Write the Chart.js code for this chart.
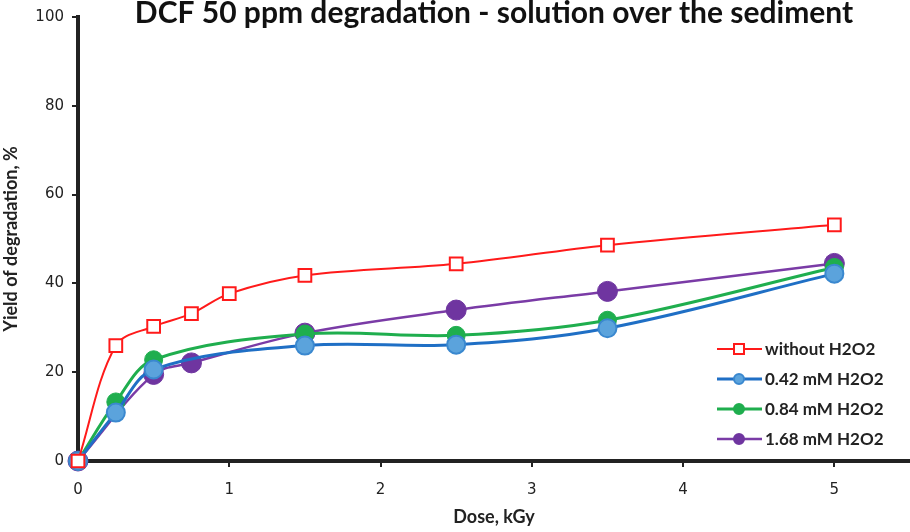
<!DOCTYPE html>
<html>
<head>
<meta charset="utf-8">
<script src="https://cdn.jsdelivr.net/npm/chart.js@4.4.1/dist/chart.umd.min.js"></script>
<style>
  body { margin: 0; background: #fff; }
  #wrap { width: 910px; height: 532px; }
</style>
</head>
<body>
<div id="wrap"><canvas id="myChart" width="910" height="532"></canvas></div>
<script>
var seriesNames = ['without H2O2', '0.42 mM H2O2', '0.84 mM H2O2', '1.68 mM H2O2'];
var doseRed = [0, 0.25, 0.5, 0.75, 1, 1.5, 2.5, 3.5, 5];
var yieldRed = [0, 26, 30.3, 33.2, 37.7, 41.8, 44.4, 48.6, 53.2];
var doseBlue = [0, 0.25, 0.5, 1.5, 2.5, 3.5, 5];
var yieldBlue = [0, 10.9, 20.6, 26, 26.2, 29.9, 42.2];
var doseGreen = [0, 0.25, 0.5, 1.5, 2.5, 3.5, 5];
var yieldGreen = [0, 13.3, 22.8, 28.6, 28.3, 31.7, 43.6];
var dosePurple = [0, 0.5, 0.75, 1.5, 2.5, 3.5, 5];
var yieldPurple = [0, 19.5, 22.1, 28.8, 34, 38.2, 44.5];
var yTicks = [0, 20, 40, 60, 80, 100];

function pts(xs, ys) {
    return xs.map(function (x, i) { return { x: x, y: ys[i] }; });
}

var legendPlugin = {
    id: 'cornerLegend',
    afterDraw: function (chart) {
        var ctx = chart.ctx;
        ctx.save();
        ctx.font = 'bold 17px Lato, sans-serif';
        ctx.textBaseline = 'middle';
        chart.data.datasets.forEach(function (ds, i) {
            var y = 349 + i * 30;
            ctx.strokeStyle = ds.borderColor;
            ctx.lineWidth = ds.borderWidth;
            ctx.beginPath();
            ctx.moveTo(717, y);
            ctx.lineTo(762, y);
            ctx.stroke();
            ctx.lineWidth = 2;
            ctx.fillStyle = ds.pointBackgroundColor;
            ctx.strokeStyle = ds.pointBorderColor;
            if (ds.pointStyle === 'rect') {
                ctx.fillRect(734, y - 5, 10, 10);
                ctx.strokeRect(734, y - 5, 10, 10);
            } else {
                ctx.beginPath();
                ctx.arc(739, y, 5, 0, Math.PI * 2);
                ctx.fill();
                ctx.stroke();
            }
            ctx.fillStyle = '#222';
            ctx.fillText(ds.label, 765, y + 1);
        });
        ctx.restore();
    }
};

var titlePlugin = {
    id: 'topTitle',
    afterDraw: function (chart) {
        var ctx = chart.ctx;
        var a = chart.chartArea;
        ctx.save();
        ctx.font = 'bold 30px Lato, "Open Sans", sans-serif';
        ctx.fillStyle = '#111';
        ctx.textAlign = 'center';
        ctx.textBaseline = 'middle';
        ctx.fillText('DCF 50 ppm degradation - solution over the sediment', (a.left + a.right) / 2, 13);
        ctx.restore();
    }
};

var ctx = document.getElementById('myChart').getContext('2d');
var myChart = new Chart(ctx, {
    type: 'line',
    data: {
        datasets: [{
            label: seriesNames[0],
            data: pts(doseRed, yieldRed),
            borderColor: '#ff1a1a',
            borderWidth: 2,
            pointStyle: 'rect',
            pointRadius: 9,
            pointBorderWidth: 2,
            pointBackgroundColor: '#ffffff',
            pointBorderColor: '#ff1a1a',
            tension: 0.35
        }, {
            label: seriesNames[1],
            data: pts(doseBlue, yieldBlue),
            borderColor: '#1f6fc5',
            borderWidth: 3,
            pointStyle: 'circle',
            pointRadius: 9,
            pointBorderWidth: 2,
            pointBackgroundColor: '#5ba3dc',
            pointBorderColor: '#3a88cf',
            tension: 0.35
        }, {
            label: seriesNames[2],
            data: pts(doseGreen, yieldGreen),
            borderColor: '#1fae4e',
            borderWidth: 3,
            pointStyle: 'circle',
            pointRadius: 9,
            pointBorderWidth: 1,
            pointBackgroundColor: '#1fae4e',
            pointBorderColor: '#1fae4e',
            tension: 0.35
        }, {
            label: seriesNames[3],
            data: pts(dosePurple, yieldPurple),
            borderColor: '#7a3ba6',
            borderWidth: 2.5,
            pointStyle: 'circle',
            pointRadius: 10,
            pointBorderWidth: 1,
            pointBackgroundColor: '#6f35a0',
            pointBorderColor: '#6f35a0',
            tension: 0.35
        }]
    },
    options: {
        responsive: false,
        animation: false,
        clip: false,
        layout: { autoPadding: false, padding: { top: 15, right: 0, left: 0, bottom: 0 } },
        plugins: {
            legend: { display: false },
            tooltip: { enabled: false }
        },
        scales: {
            x: {
                type: 'linear',
                min: 0,
                max: 5.5,
                border: { color: '#222', width: 4 },
                grid: { drawOnChartArea: false, tickLength: 6, color: '#222', lineWidth: 2 },
                ticks: {
                    stepSize: 1,
                    includeBounds: false,
                    padding: 14,
                    color: '#222',
                    font: { family: 'DejaVu Sans', size: 15 }
                },
                title: {
                    display: true,
                    text: 'Dose, kGy',
                    color: '#222',
                    font: { family: 'Lato, sans-serif', size: 18, weight: 'bold' },
                    padding: { top: 4 }
                },
                afterFit: function (s) {
                    s.height = 71;
                    s.paddingLeft = 0;
                    s.paddingRight = 0;
                }
            },
            y: {
                min: 0,
                max: 100,
                border: { color: '#222', width: 4 },
                grid: { drawOnChartArea: false, tickLength: 6, color: '#222', lineWidth: 2 },
                afterBuildTicks: function (s) {
                    s.ticks = yTicks.map(function (v) { return { value: v }; });
                },
                ticks: {
                    padding: 8,
                    color: '#222',
                    font: { family: 'DejaVu Sans', size: 15 }
                },
                title: {
                    display: true,
                    text: 'Yield of degradation, %',
                    color: '#222',
                    font: { family: 'Lato, sans-serif', size: 18, weight: 'bold' },
                    padding: { top: 0, bottom: 0 }
                },
                afterFit: function (s) { s.width = 78; }
            }
        }
    },
    plugins: [legendPlugin, titlePlugin]
});
</script>
</body>
</html>
